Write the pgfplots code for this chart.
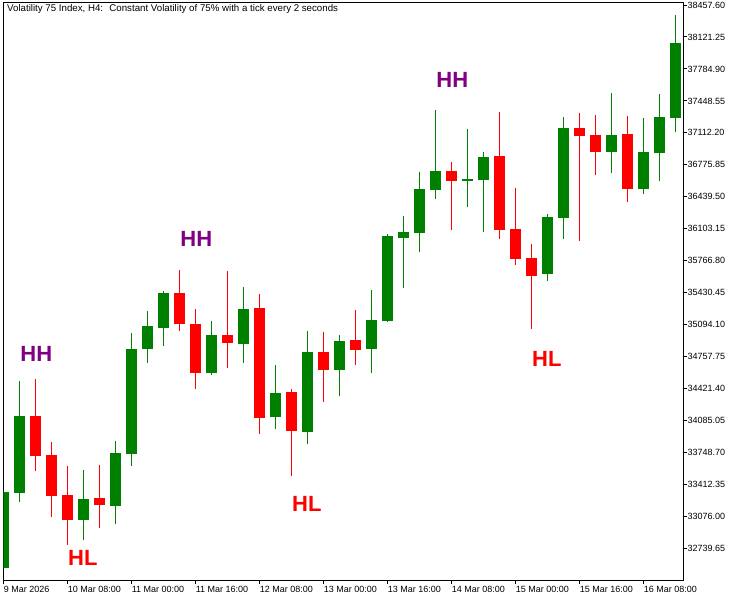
\documentclass[border=0pt]{standalone}
\usepackage{fontspec}
\setmainfont{Liberation Sans}
\usepackage{pgfplots}
\pgfplotsset{compat=1.18}
\definecolor{mtgreen}{RGB}{0,128,0}
\definecolor{mtred}{RGB}{255,0,0}
\definecolor{mtpurple}{RGB}{128,0,128}

\begin{document}
\begin{tikzpicture}[x=1pt,y=1pt]
\useasboundingbox (0,0) rectangle (740,600);
\begin{axis}[
  at={(2.3,21)}, anchor=south west,
  scale only axis, width=679.7pt, height=577.3pt,
  xmin=0, xmax=42.48, ymin=32406.0, ymax=38481.8,
  axis line style={line width=1pt, black},
  tick style={line width=1pt, black},
  major tick length=4pt,
  tick align=outside,
  xtick pos=bottom, ytick pos=right, yticklabel pos=right,
  xtick={0,4,8,12,16,20,24,28,32,36,40},
  xticklabels={9 Mar 2026,10 Mar 08:00,11 Mar 00:00,11 Mar 16:00,12 Mar 08:00,13 Mar 00:00,13 Mar 16:00,14 Mar 08:00,15 Mar 00:00,15 Mar 16:00,16 Mar 08:00},
  xticklabel style={anchor=north west, inner sep=0pt, yshift=-1.5pt, font=\fontsize{9}{10}\selectfont},
  ytick={32739.65,33076.00,33412.35,33748.70,34085.05,34421.40,34757.75,35094.10,35430.45,35766.80,36103.15,36439.50,36775.85,37112.20,37448.55,37784.90,38121.25,38457.60},
  yticklabels={32739.65,33076.00,33412.35,33748.70,34085.05,34421.40,34757.75,35094.10,35430.45,35766.80,36103.15,36439.50,36775.85,37112.20,37448.55,37784.90,38121.25,38457.60},
  yticklabel style={anchor=west, inner sep=0pt, font=\fontsize{9}{10}\selectfont},
  /pgf/number format/assume math mode=true,
  unbounded coords=jump,
]
% ---- bullish candles: wicks (low, high) ----
\addplot[mtgreen, line width=1pt, mark=none] coordinates {
(0,32511.3) (0,33353.2) (nan,nan)
(1,33226.9) (1,34500.4) (nan,nan)
(5,32830.2) (5,33563.7) (nan,nan)
(7,32998.5) (7,33868.9) (nan,nan)
(8,33609.0) (8,35005.6) (nan,nan)
(9,34693.0) (9,35237.1) (nan,nan)
(10,34872.0) (10,35447.6) (nan,nan)
(13,34566.7) (13,35131.9) (nan,nan)
(15,34693.0) (15,35489.7) (nan,nan)
(17,33998.4) (17,34668.8) (nan,nan)
(19,33840.5) (19,35026.6) (nan,nan)
(21,34345.7) (21,34984.5) (nan,nan)
(23,34587.7) (23,35458.1) (nan,nan)
(24,35121.3) (24,36047.5) (nan,nan)
(25,35482.3) (25,36236.9) (nan,nan)
(26,35861.2) (26,36700.0) (nan,nan)
(27,36419.0) (27,37352.5) (nan,nan)
(29,36334.8) (29,37152.6) (nan,nan)
(30,36071.7) (30,36910.5) (nan,nan)
(34,35552.8) (34,36258.0) (nan,nan)
(35,35994.9) (35,37278.9) (nan,nan)
(38,36689.5) (38,37531.5) (nan,nan)
(40,36468.5) (40,37268.3) (nan,nan)
(41,36605.3) (41,37520.9) (nan,nan)
(42,37121.0) (42,38352.4)
};
% ---- bearish candles: wicks (low, high) ----
\addplot[mtred, line width=1pt, mark=none] coordinates {
(2,33553.2) (2,34521.4) (nan,nan)
(3,33072.2) (3,33858.4) (nan,nan)
(4,32777.5) (4,33605.8) (nan,nan)
(6,32953.3) (6,33616.3) (nan,nan)
(11,35029.8) (11,35668.6) (nan,nan)
(12,34419.4) (12,35258.2) (nan,nan)
(14,34640.4) (14,35658.1) (nan,nan)
(16,33945.8) (16,35416.0) (nan,nan)
(18,33503.7) (18,34416.2) (nan,nan)
(20,34282.5) (20,35016.1) (nan,nan)
(22,34671.9) (22,35247.6) (nan,nan)
(28,36089.6) (28,36805.3) (nan,nan)
(31,35994.9) (31,37331.5) (nan,nan)
(32,35721.2) (32,36531.6) (nan,nan)
(33,35050.8) (33,35942.3) (nan,nan)
(36,35973.8) (36,37321.0) (nan,nan)
(37,36668.4) (37,37299.9) (nan,nan)
(39,36384.3) (39,37289.4)
};
% ---- bullish bodies (open, close) ----
\addplot[mtgreen, line width=11pt, mark=none] coordinates {
(0,32535.5) (0,33332.2) (nan,nan)
(1,33324.8) (1,34132.0) (nan,nan)
(5,33040.6) (5,33258.5) (nan,nan)
(7,33188.0) (7,33742.6) (nan,nan)
(8,33735.3) (8,34837.2) (nan,nan)
(9,34840.3) (9,35079.2) (nan,nan)
(10,35061.3) (10,35426.5) (nan,nan)
(13,34587.7) (13,34984.5) (nan,nan)
(15,34893.0) (15,35258.2) (nan,nan)
(17,34124.7) (17,34374.1) (nan,nan)
(19,33966.8) (19,34805.6) (nan,nan)
(21,34619.3) (21,34921.4) (nan,nan)
(23,34840.3) (23,35142.4) (nan,nan)
(24,35131.9) (24,36026.4) (nan,nan)
(25,36005.4) (25,36071.7) (nan,nan)
(26,36061.2) (26,36521.1) (nan,nan)
(27,36513.7) (27,36710.5) (nan,nan)
(29,36605.3) (29,36623.2) (nan,nan)
(30,36615.8) (30,36857.9) (nan,nan)
(34,35626.5) (34,36226.4) (nan,nan)
(35,36215.9) (35,37163.1) (nan,nan)
(38,36910.5) (38,37089.4) (nan,nan)
(40,36521.1) (40,36910.5) (nan,nan)
(41,36900.0) (41,37278.9) (nan,nan)
(42,37268.3) (42,38057.7)
};
% ---- bearish bodies (open, close) ----
\addplot[mtred, line width=11pt, mark=none] coordinates {
(2,34132.0) (2,33714.2) (nan,nan)
(3,33721.6) (3,33293.2) (nan,nan)
(4,33300.6) (4,33040.6) (nan,nan)
(6,33269.0) (6,33198.5) (nan,nan)
(11,35426.5) (11,35103.4) (nan,nan)
(12,35100.3) (12,34587.7) (nan,nan)
(14,34984.5) (14,34903.5) (nan,nan)
(16,35271.8) (16,34114.1) (nan,nan)
(18,34384.6) (18,33977.3) (nan,nan)
(20,34805.6) (20,34619.3) (nan,nan)
(22,34931.9) (22,34829.8) (nan,nan)
(28,36710.5) (28,36605.3) (nan,nan)
(31,36868.4) (31,36089.6) (nan,nan)
(32,36100.1) (32,35787.5) (nan,nan)
(33,35794.9) (33,35605.5) (nan,nan)
(36,37163.1) (36,37078.9) (nan,nan)
(37,37089.4) (37,36910.5) (nan,nan)
(39,37099.9) (39,36521.1)
};
% swing labels
\tikzset{swing/.style={font=\bfseries\fontsize{22}{22}\selectfont, text height=15.75pt, text depth=0pt, inner sep=0pt}}
\node[swing, text=mtpurple] at (axis cs:2.04,34784.6) {HH};
\node[swing, text=mtpurple] at (axis cs:12.04,35994.9) {HH};
\node[swing, text=mtpurple] at (axis cs:28.04,37668.3) {HH};
\node[swing, text=mtred] at (axis cs:4.95,32637.6) {HL};
\node[swing, text=mtred] at (axis cs:18.95,33205.9) {HL};
\node[swing, text=mtred] at (axis cs:33.95,34731.9) {HL};
\end{axis}
\node[anchor=base west, inner sep=0pt, font=\fontsize{9.7}{11}\selectfont] at (7,588) {Volatility 75 Index, H4:~ Constant Volatility of 75\% with a tick every 2 seconds};
\end{tikzpicture}
\end{document}
